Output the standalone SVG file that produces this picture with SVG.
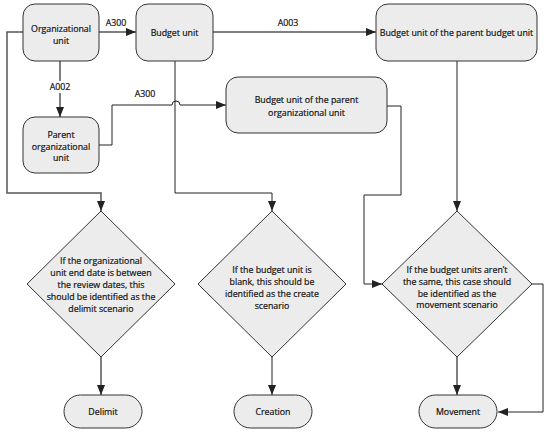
<svg xmlns="http://www.w3.org/2000/svg" width="550" height="433" viewBox="0 0 550 433">
<style>
.box{fill:#ececec;stroke:#333;stroke-width:1}
.t{font-family:"Open Sans","Liberation Sans",sans-serif;font-size:8.8px;fill:#111;stroke:#111;stroke-width:0.2;text-anchor:middle}
.c{fill:none;stroke:#555;stroke-width:1.5}
.c2{fill:none;stroke:#222;stroke-width:1}
</style>
<defs>
<marker id="ah" markerUnits="userSpaceOnUse" markerWidth="10" markerHeight="10" viewBox="0 0 10 10" refX="10" refY="5" orient="auto">
<path d="M0,1 L10,5 L0,9 Z" fill="#222"/>
</marker>
</defs>
<rect width="550" height="433" fill="#fff"/>
<g id="connectors">
<path class="c" d="M23,32 H7 V193 H101 V211" marker-end="url(#ah)"/>
<path class="c" d="M99,32 H136" marker-end="url(#ah)"/>
<path class="c" d="M213,32 H376" marker-end="url(#ah)"/>
<path class="c" d="M60,61 V117" marker-end="url(#ah)"/>
<path class="c2" d="M99,145 H112 V105 H172 A4,4 0 0 1 180,105 H226" marker-end="url(#ah)"/>
<path class="c2" d="M175,61 V193 H272 V211" marker-end="url(#ah)"/>
<path class="c2" d="M387,106 H401 V195 H364 V284 H382" marker-end="url(#ah)"/>
<path class="c2" d="M457,61 V211" marker-end="url(#ah)"/>
<path class="c2" d="M532,284 H543 V412 H498" marker-end="url(#ah)"/>
<path class="c" d="M101,357 V395" marker-end="url(#ah)"/>
<path class="c2" d="M272,357 V395" marker-end="url(#ah)"/>
<path class="c" d="M457,357 V395" marker-end="url(#ah)"/>
<rect x="47" y="81" width="26" height="12" fill="#fff"/>
<text class="t" x="60" y="90">A002</text>
<text class="t" x="116" y="26">A300</text>
<text class="t" x="288" y="26">A003</text>
<text class="t" x="145" y="97">A300</text>
</g>
<g id="org-unit">
<rect class="box" x="23" y="4" width="76" height="57" rx="12"/>
<text class="t" x="61" y="32">Organizational</text>
<text class="t" x="61" y="44">unit</text>
</g>
<g id="budget-unit">
<rect class="box" x="136" y="4" width="77" height="57" rx="12"/>
<text class="t" x="174.5" y="36">Budget unit</text>
</g>
<g id="bu-parent-bu">
<rect class="box" x="376" y="4" width="161" height="57" rx="12"/>
<text class="t" x="456.5" y="36">Budget unit of the parent budget unit</text>
</g>
<g id="parent-org">
<rect class="box" x="23" y="117" width="76" height="56" rx="12"/>
<text class="t" x="61" y="138">Parent</text>
<text class="t" x="61" y="150">organizational</text>
<text class="t" x="61" y="161">unit</text>
</g>
<g id="bu-parent-org">
<rect class="box" x="226" y="77" width="161" height="56" rx="12"/>
<text class="t" x="306.5" y="103">Budget unit of the parent</text>
<text class="t" x="306.5" y="116">organizational unit</text>
</g>
<g id="delimit-decision">
<path class="box" d="M101,211 L175,284 L101,357 L27,284 Z"/>
<text class="t" x="101" y="264">If the organizational</text>
<text class="t" x="101" y="276">unit end date is between</text>
<text class="t" x="101" y="288">the review dates, this</text>
<text class="t" x="101" y="300">should be identified as the</text>
<text class="t" x="101" y="312">delimit scenario</text>
</g>
<g id="create-decision">
<path class="box" d="M272,211 L346,284 L272,357 L198,284 Z"/>
<text class="t" x="272" y="273">If the budget unit is</text>
<text class="t" x="272" y="285">blank, this should be</text>
<text class="t" x="272" y="297">identified as the create</text>
<text class="t" x="272" y="309">scenario</text>
</g>
<g id="movement-decision">
<path class="box" d="M457,211 L532,284 L457,357 L382,284 Z"/>
<text class="t" x="457" y="273">If the budget units aren’t</text>
<text class="t" x="457" y="285">the same, this case should</text>
<text class="t" x="457" y="297">be identified as the</text>
<text class="t" x="457" y="308">movement scenario</text>
</g>
<g id="delimit">
<rect class="box" x="64" y="395" width="78" height="33" rx="16.5"/>
<text class="t" x="103" y="415">Delimit</text>
</g>
<g id="creation">
<rect class="box" x="234" y="395" width="78" height="33" rx="16.5"/>
<text class="t" x="273" y="415">Creation</text>
</g>
<g id="movement">
<rect class="box" x="419" y="395" width="78" height="33" rx="16.5"/>
<text class="t" x="458" y="415">Movement</text>
</g>
</svg>
